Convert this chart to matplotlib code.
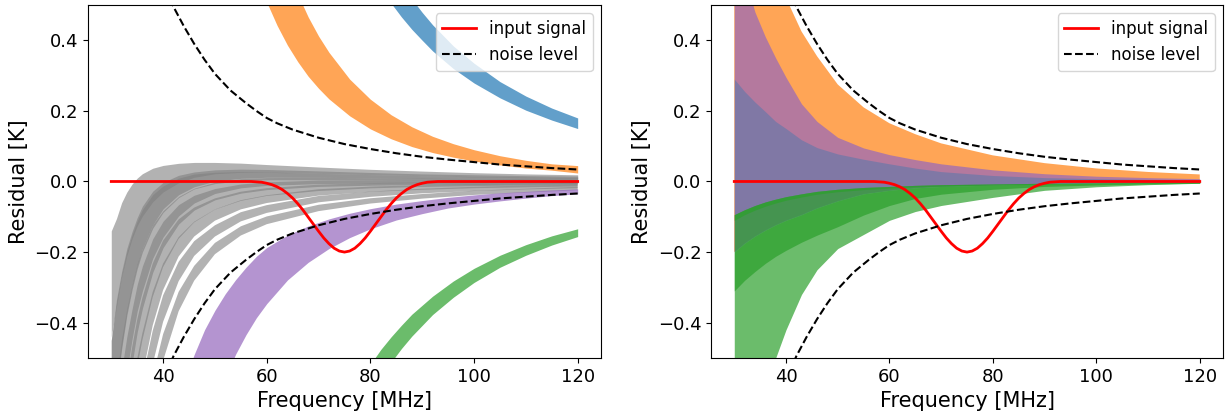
####################################################

# Load modules

import numpy as np
from matplotlib import pyplot as plt

####################################################

# input signal (absorption trough) and noise level
f_sig = [30, 40, 50, 56, 57, 58, 59, 60, 61, 62, 63, 64, 65, 66, 67, 68, 69, 70, 71, 72, 73, 74, 75,
         76, 77, 78, 79, 80, 81, 82, 83, 84, 85, 86, 87, 88, 89, 90, 91, 92, 93, 94, 100, 110, 120]
signal = [0, 0, 0, 0, 0, -0.001, -0.002, -0.005, -0.009, -0.015, -0.023, -0.034, -0.047, -0.063,
          -0.081, -0.101, -0.121, -0.141, -0.16, -0.176, -0.189, -0.197, -0.2,
          -0.197, -0.189, -0.176, -0.16, -0.141, -0.121, -0.101, -0.081, -0.063, -0.047, -0.034,
          -0.023, -0.015, -0.009, -0.005, -0.002, -0.001, 0, 0, 0, 0, 0]

f_noise = [30, 32, 34, 36, 38, 40, 42, 44, 46, 48, 50, 53, 56, 58, 60, 62, 65, 70, 75, 80, 85, 90,
           95, 100, 105, 110, 115, 120]
noise = [1.15, 0.98, 0.84, 0.73, 0.635, 0.56, 0.495, 0.44, 0.39, 0.345, 0.305, 0.258, 0.222, 0.2,
         0.18, 0.165, 0.147, 0.124, 0.106, 0.092, 0.08, 0.07, 0.062, 0.055, 0.048, 0.043, 0.038, 0.034]

####################################################

# left panel: grey residual bands (centre and width)
f_grey = [30, 31, 32, 33, 34, 35, 36, 38, 40, 43, 46, 50, 55, 60, 70, 80, 90, 100, 110, 120]
grey_width = [0.3, 0.25, 0.21, 0.18, 0.155, 0.135, 0.12, 0.095, 0.075, 0.055, 0.042, 0.032, 0.026,
              0.022, 0.018, 0.015, 0.013, 0.012, 0.011, 0.01]
grey_mid = [
    [-0.29, -0.23, -0.165, -0.12, -0.085, -0.058, -0.038, -0.01, 0.008, 0.024, 0.033, 0.038, 0.039, 0.037, 0.032, 0.027, 0.023, 0.019, 0.016, 0.014],
    [-0.6, -0.46, -0.36, -0.28, -0.22, -0.17, -0.13, -0.075, -0.04, -0.01, 0.006, 0.017, 0.022, 0.023, 0.021, 0.018, 0.015, 0.013, 0.011, 0.01],
    [-0.6, -0.47, -0.37, -0.29, -0.23, -0.18, -0.14, -0.085, -0.05, -0.018, 0.0, 0.01, 0.015, 0.016, 0.014, 0.012, 0.01, 0.008, 0.007, 0.006],
    [-0.85, -0.68, -0.55, -0.45, -0.37, -0.3, -0.25, -0.17, -0.12, -0.07, -0.04, -0.018, -0.005, 0.0, 0.003, 0.003, 0.003, 0.002, 0.002, 0.002],
    [-0.95, -0.78, -0.64, -0.53, -0.44, -0.36, -0.3, -0.21, -0.15, -0.093, -0.06, -0.036, -0.02, -0.012, -0.005, -0.003, -0.002, -0.002, -0.001, -0.001],
    [-1.15, -0.95, -0.79, -0.66, -0.55, -0.46, -0.39, -0.28, -0.205, -0.135, -0.095, -0.064, -0.042, -0.03, -0.018, -0.012, -0.009, -0.007, -0.006, -0.005],
    [-1.35, -1.12, -0.94, -0.79, -0.67, -0.57, -0.49, -0.36, -0.27, -0.185, -0.135, -0.095, -0.066, -0.05, -0.031, -0.022, -0.017, -0.013, -0.011, -0.009],
    [-1.6, -1.35, -1.15, -0.98, -0.84, -0.72, -0.62, -0.47, -0.36, -0.255, -0.19, -0.14, -0.1, -0.078, -0.05, -0.036, -0.027, -0.021, -0.017, -0.014],
    [-1.9, -1.62, -1.39, -1.2, -1.03, -0.89, -0.78, -0.6, -0.47, -0.34, -0.26, -0.19, -0.14, -0.11, -0.075, -0.055, -0.042, -0.032, -0.026, -0.02],
]

# left panel: coloured bands
f_blue = [78, 80, 82, 84, 86, 88, 90, 92, 96, 100, 105, 110, 115, 120]
blue_hi = [0.778, 0.714, 0.656, 0.605, 0.558, 0.517, 0.479, 0.444, 0.384, 0.335, 0.283, 0.242, 0.208, 0.18]
blue_lo = [0.65, 0.596, 0.548, 0.505, 0.466, 0.431, 0.4, 0.37, 0.32, 0.279, 0.237, 0.202, 0.174, 0.15]

f_orange = [58, 60, 62, 64, 66, 68, 70, 72, 76, 80, 84, 88, 92, 96, 100, 105, 110, 115, 120]
orange_hi = [0.918, 0.795, 0.691, 0.604, 0.53, 0.466, 0.412, 0.366, 0.29, 0.233, 0.189, 0.155, 0.128, 0.107, 0.09, 0.073, 0.06, 0.05, 0.045]
orange_lo = [0.587, 0.508, 0.442, 0.386, 0.339, 0.298, 0.264, 0.234, 0.186, 0.149, 0.121, 0.099, 0.082, 0.069, 0.058, 0.047, 0.038, 0.032, 0.024]

f_green = [74, 76, 78, 80, 82, 84, 86, 88, 92, 96, 100, 105, 110, 115, 120]
green_hi = [-0.671, -0.614, -0.563, -0.518, -0.476, -0.44, -0.407, -0.376, -0.325, -0.282, -0.246, -0.209, -0.179, -0.154, -0.134]
green_lo = [-0.779, -0.714, -0.655, -0.602, -0.554, -0.512, -0.473, -0.438, -0.377, -0.328, -0.286, -0.243, -0.209, -0.18, -0.156]

f_purple = [42, 44, 46, 48, 50, 52, 54, 56, 58, 60, 64, 68, 72, 76, 80, 85, 90, 95, 100, 105, 110, 115, 120]
purple_hi = [-0.665, -0.57, -0.49, -0.42, -0.365, -0.318, -0.278, -0.243, -0.212, -0.187, -0.152, -0.126, -0.106, -0.09, -0.077, -0.064, -0.054, -0.045, -0.038, -0.032, -0.028, -0.024, -0.021]
purple_lo = [-1.122, -0.962, -0.831, -0.722, -0.631, -0.554, -0.489, -0.434, -0.386, -0.346, -0.279, -0.229, -0.19, -0.159, -0.134, -0.109, -0.091, -0.075, -0.064, -0.055, -0.047, -0.04, -0.035]

####################################################

# right panel bands
f_r = [30, 32, 34, 36, 38, 40, 43, 46, 50, 55, 60, 65, 70, 80, 90, 100, 110, 120]
r_orange_hi = [1.05, 0.9, 0.78, 0.68, 0.6, 0.52, 0.425, 0.355, 0.275, 0.21, 0.165, 0.134, 0.108, 0.074, 0.052, 0.037, 0.027, 0.02]
r_purple_hi = [0.68, 0.58, 0.48, 0.41, 0.35, 0.295, 0.22, 0.17, 0.125, 0.095, 0.076, 0.062, 0.05, 0.033, 0.022, 0.015, 0.011, 0.008]
r_blue_hi = [0.29, 0.255, 0.225, 0.198, 0.17, 0.15, 0.118, 0.096, 0.078, 0.063, 0.05, 0.038, 0.028, 0.017, 0.011, 0.008, 0.006, 0.005]
r_low_edge = [-0.2, -0.175, -0.155, -0.138, -0.123, -0.11, -0.094, -0.075, -0.055, -0.035, -0.025, -0.018, -0.014, -0.01, -0.007, -0.005, -0.004, -0.003]
r_green_hi = [-0.094, -0.08, -0.068, -0.058, -0.05, -0.043, -0.035, -0.028, -0.022, -0.017, -0.014, -0.011, -0.009, -0.007, -0.005, -0.004, -0.003, -0.002]
r_green_lo = [-1.0, -0.85, -0.72, -0.6, -0.5, -0.42, -0.32, -0.25, -0.19, -0.15, -0.11, -0.085, -0.068, -0.045, -0.025, -0.015, -0.009, -0.005]
r_green2_lo = [-0.31, -0.28, -0.255, -0.232, -0.212, -0.195, -0.172, -0.152, -0.128, -0.095, -0.068, -0.048, -0.036, -0.022, -0.014, -0.01, -0.007, -0.005]
r_green3_lo = [-0.11, -0.094, -0.081, -0.07, -0.061, -0.053, -0.044, -0.036, -0.029, -0.023, -0.019, -0.015, -0.013, -0.01, -0.008, -0.006, -0.005, -0.004]

####################################################

fig = plt.figure(figsize=(12.25, 4.13), dpi=100)
ax1 = fig.add_axes([0.0718, 0.1332, 0.4188, 0.8547])
ax2 = fig.add_axes([0.5804, 0.1332, 0.4180, 0.8547])

# left
w = np.array(grey_width)
for mid in grey_mid:
    mid = np.array(mid)
    ax1.fill_between(f_grey, mid - w / 2, mid + w / 2, color="gray", alpha=0.6, lw=0)
ax1.fill_between(f_blue, blue_lo, blue_hi, color="C0", alpha=0.7, lw=0)
ax1.fill_between(f_orange, orange_lo, orange_hi, color="C1", alpha=0.7, lw=0)
ax1.fill_between(f_green, green_lo, green_hi, color="C2", alpha=0.7, lw=0)
ax1.fill_between(f_purple, purple_lo, purple_hi, color="C4", alpha=0.7, lw=0)

# right
ax2.fill_between(f_r, r_low_edge, r_orange_hi, color="C1", alpha=0.7, lw=0)
ax2.fill_between(f_r, r_low_edge, r_purple_hi, color="C4", alpha=0.7, lw=0)
ax2.fill_between(f_r, r_low_edge, r_blue_hi, color="C0", alpha=0.35, lw=0)
ax2.fill_between(f_r, r_green_lo, r_green_hi, color="C2", alpha=0.7, lw=0)
ax2.fill_between(f_r, r_green2_lo, r_low_edge, color="C2", alpha=0.7, lw=0)
ax2.fill_between(f_r, r_green3_lo, r_green_hi, color="C2", alpha=0.7, lw=0)

for ax in [ax1, ax2]:
    ax.plot(f_sig, signal, color="red", lw=2, label="input signal")
    ax.plot(f_noise, noise, "k--", lw=1.5, label="noise level")
    ax.plot(f_noise, -np.array(noise), "k--", lw=1.5)
    ax.set_xlim(25.5, 124.5)
    ax.set_ylim(-0.5, 0.5)
    ax.set_xlabel("Frequency [MHz]", fontsize=15)
    ax.set_ylabel("Residual [K]", fontsize=15)
    ax.tick_params(labelsize=13)
    ax.legend(loc="upper right", fontsize=12)

plt.savefig("out.png")
